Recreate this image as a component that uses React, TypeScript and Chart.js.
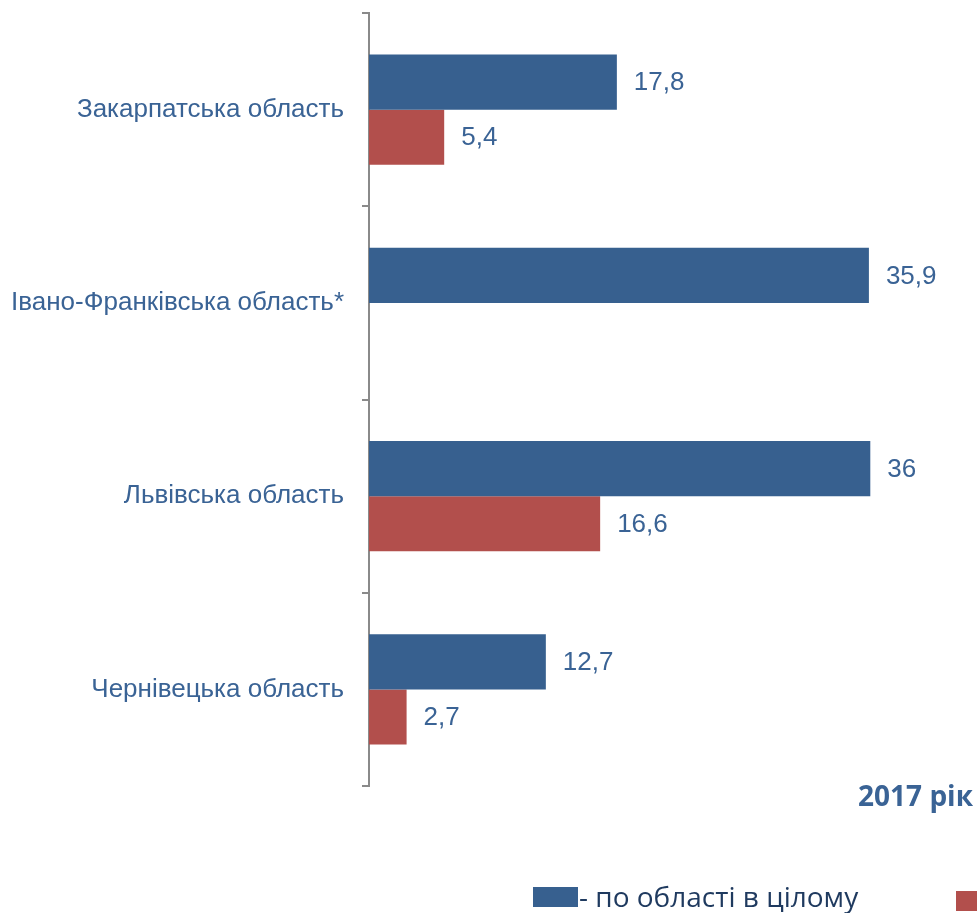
import React, { useEffect, useRef } from "react";
import { Chart, registerables } from "chart.js";

Chart.register(...registerables);

const categories = [
  "Закарпатська область",
  "Івано-Франківська область*",
  "Львівська область",
  "Чернівецька область",
];
const totalValues = [17.8, 35.9, 36, 12.7];
const secondValues: (number | null)[] = [5.4, null, 16.6, 2.7];
const seriesNames = ["- по області в цілому", ""];
const yearLabel = "2017 рік";

const BLUE = "#37608F";
const RED = "#B24F4C";
const TEXT_BLUE = "#3A6395";

const valueLabelPlugin = {
  id: "valueLabels",
  afterDatasetsDraw(chart: any) {
    const ctx = chart.ctx;
    ctx.save();
    ctx.font = "26px 'Liberation Sans', Arial, sans-serif";
    ctx.fillStyle = TEXT_BLUE;
    ctx.textAlign = "left";
    ctx.textBaseline = "middle";
    chart.data.datasets.forEach((ds: any, di: number) => {
      const meta = chart.getDatasetMeta(di);
      meta.data.forEach((el: any, i: number) => {
        const v = ds.data[i];
        if (v === null || v === undefined) return;
        const txt = String(v).replace(".", ",");
        ctx.fillText(txt, el.x + 17, el.y + 1);
      });
    });
    ctx.restore();
  },
};

export default function App() {
  const ref = useRef<HTMLCanvasElement>(null);
  useEffect(() => {
    if (!ref.current) return;
    const chart = new Chart(ref.current, {
      type: "bar",
      data: {
        labels: categories,
        datasets: [
          {
            label: seriesNames[0],
            data: totalValues,
            backgroundColor: BLUE,
            borderWidth: 0,
          },
          {
            label: seriesNames[1],
            data: secondValues,
            backgroundColor: RED,
            borderWidth: 0,
          },
        ],
      },
      options: {
        indexAxis: "y",
        animation: false,
        responsive: false,
        layout: { padding: { top: 13, bottom: 127, right: 51, left: 0 } },
        plugins: {
          legend: { display: false },
          tooltip: { enabled: false },
        },
        datasets: {
          bar: { categoryPercentage: 0.57, barPercentage: 1 },
        },
        scales: {
          x: { display: false, min: 0, max: 40 },
          y: {
            afterFit: (scale: any) => {
              scale.width = 369;
              scale.paddingTop = 0;
              scale.paddingBottom = 0;
            },
            grid: {
              drawOnChartArea: false,
              drawTicks: true,
              tickLength: 7,
              color: "#8A8A8A",
              lineWidth: 2,
              offset: true,
            },
            border: { display: true, color: "#8A8A8A", width: 2 },
            ticks: {
              padding: 18,
              color: TEXT_BLUE,
              font: { family: "'Liberation Sans', Arial, sans-serif", size: 26 },
            },
          },
        },
      },
      plugins: [valueLabelPlugin],
    });
    return () => chart.destroy();
  }, []);

  return (
    <div
      style={{
        position: "fixed",
        left: 0,
        top: 0,
        width: 977,
        height: 913,
        overflow: "hidden",
        background: "#fff",
      }}
    >
      <canvas ref={ref} width={977} height={913} style={{ display: "block" }} />
      <div
        style={{
          position: "absolute",
          right: 4,
          top: 776,
          fontFamily: "'Open Sans', sans-serif",
          fontWeight: 700,
          fontSize: 28,
          color: TEXT_BLUE,
          whiteSpace: "nowrap",
          lineHeight: "38px",
        }}
      >
        {yearLabel}
      </div>
      <div
        style={{
          position: "absolute",
          left: 533,
          top: 887,
          width: 45,
          height: 20,
          background: BLUE,
        }}
      />
      <div
        style={{
          position: "absolute",
          left: 579,
          top: 877,
          fontFamily: "'Open Sans', sans-serif",
          fontSize: 28,
          color: "#1F3A5F",
          whiteSpace: "nowrap",
          lineHeight: "38px",
        }}
      >
        {seriesNames[0]}
      </div>
      <div
        style={{
          position: "absolute",
          left: 956,
          top: 891,
          width: 45,
          height: 20,
          background: RED,
        }}
      />
    </div>
  );
}
